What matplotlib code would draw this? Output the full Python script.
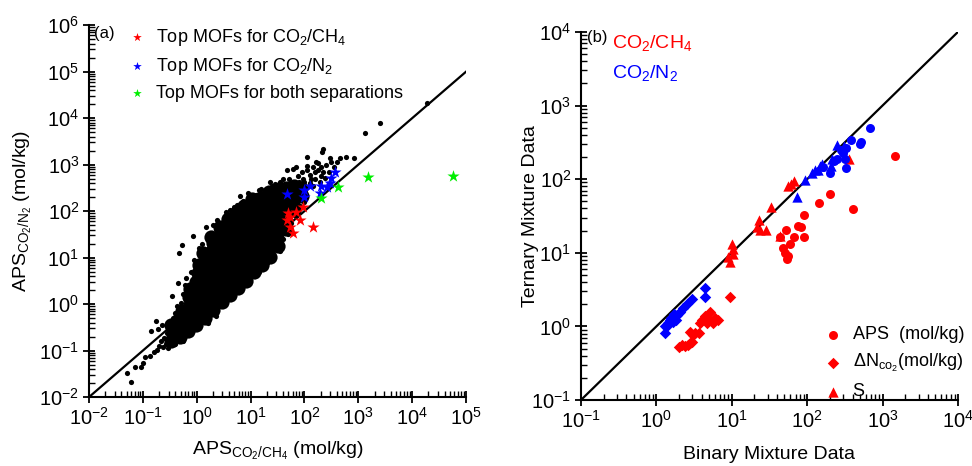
import numpy as np
import matplotlib
matplotlib.use("Agg")
import matplotlib.pyplot as plt
from matplotlib.ticker import LogLocator, FuncFormatter, NullFormatter

plt.rcParams['font.family'] = ['Liberation Sans', 'DejaVu Sans']
plt.rcParams['mathtext.fontset'] = 'custom'
plt.rcParams['mathtext.rm'] = 'Liberation Sans'
plt.rcParams['mathtext.it'] = 'Liberation Sans:italic'
plt.rcParams['mathtext.bf'] = 'Liberation Sans:bold'

# ---- panel (a): log10 values ----
# dense core of the screening cloud
cloud_core = [
    (-0.47, -0.80), (-0.44, -0.62), (-0.48, -0.45),
    (-0.31, -0.70), (-0.29, -0.52), (-0.33, -0.33), (-0.28, -0.15),
    (-0.16, -0.57), (-0.14, -0.38), (-0.17, -0.21), (-0.13, -0.03), (-0.15, 0.15), (-0.12, 0.33),
    (-0.01, -0.44), (0.02, -0.25), (-0.02, -0.07), (0.01, 0.11), (0.03, 0.29), (-0.01, 0.47),
    (0.02, 0.66), (0.04, 0.84),
    (0.16, -0.31), (0.14, -0.13), (0.17, 0.05), (0.15, 0.23), (0.13, 0.41), (0.16, 0.60),
    (0.14, 0.78), (0.17, 0.96), (0.12, 1.10),
    (0.31, -0.13), (0.29, 0.05), (0.32, 0.23), (0.28, 0.42), (0.31, 0.60), (0.30, 0.78),
    (0.33, 0.96), (0.29, 1.14), (0.31, 1.32), (0.27, 1.45),
    (0.46, 0.04), (0.44, 0.22), (0.47, 0.40), (0.45, 0.58), (0.43, 0.77), (0.46, 0.95),
    (0.44, 1.13), (0.47, 1.31), (0.45, 1.49), (0.43, 1.66),
    (0.61, 0.19), (0.59, 0.37), (0.62, 0.55), (0.60, 0.74), (0.58, 0.92), (0.61, 1.10),
    (0.63, 1.28), (0.59, 1.46), (0.61, 1.64), (0.58, 1.82),
    (0.76, 0.35), (0.74, 0.53), (0.77, 0.71), (0.75, 0.89), (0.73, 1.07), (0.76, 1.25),
    (0.74, 1.43), (0.77, 1.61), (0.75, 1.79), (0.73, 1.96),
    (0.91, 0.50), (0.89, 0.68), (0.92, 0.86), (0.90, 1.04), (0.88, 1.22), (0.91, 1.40),
    (0.89, 1.58), (0.92, 1.76), (0.90, 1.94), (0.88, 2.10),
    (1.06, 0.68), (1.04, 0.86), (1.07, 1.04), (1.05, 1.22), (1.03, 1.40), (1.06, 1.58),
    (1.04, 1.76), (1.07, 1.94), (1.05, 2.12), (1.03, 2.25),
    (1.21, 0.85), (1.19, 1.03), (1.22, 1.21), (1.20, 1.39), (1.18, 1.57), (1.21, 1.75),
    (1.19, 1.93), (1.22, 2.11), (1.20, 2.29),
    (1.36, 1.02), (1.34, 1.20), (1.37, 1.38), (1.35, 1.56), (1.33, 1.74), (1.36, 1.92),
    (1.34, 2.10), (1.37, 2.28), (1.35, 2.42),
    (1.51, 1.25), (1.49, 1.43), (1.52, 1.61), (1.50, 1.79), (1.48, 1.97), (1.51, 2.15),
    (1.49, 2.33), (1.52, 2.48),
    (1.66, 1.62), (1.64, 1.80), (1.67, 1.98), (1.65, 2.16), (1.63, 2.34), (1.66, 2.50),
    (1.81, 2.02), (1.79, 2.20), (1.82, 2.38), (1.80, 2.54),
    (1.95, 2.32), (1.93, 2.50),
]

# scattered MOFs around the core
cloud_edge = [
    (-1.30, -1.48), (-1.22, -1.68), (-1.15, -1.35), (-1.04, -1.35), (-1.00, -1.27),
    (-0.96, -1.14), (-0.87, -1.12), (-0.79, -1.03), (-0.74, -0.98), (-0.70, -0.90),
    (-0.66, -0.80), (-0.62, -0.92), (-0.60, -0.72), (-0.56, -0.62), (-0.58, -0.85),
    (-0.53, -0.95), (-0.50, -0.52), (-0.55, -0.42), (-0.44, -0.30), (-0.40, -0.20),
    (-0.36, -0.05), (-0.30, 0.02), (-0.76, -0.37), (-0.85, -0.58), (-0.72, -0.54),
    (-0.64, -0.45), (-0.46, 0.17), (-0.35, 0.45), (-0.33, 1.10), (-0.27, 1.27),
    (-0.07, 1.46), (-0.22, 0.40), (-0.25, 0.22), (-0.20, 0.55), (-0.10, 0.70),
    (-0.06, 0.95), (0.05, 1.20), (0.10, 1.30), (0.18, 1.66), (0.22, 1.40),
    (0.35, 1.62), (0.38, 1.80), (0.52, 1.85), (0.55, 1.98), (0.66, 1.95),
    (0.70, 2.08), (0.74, 2.13), (0.80, 2.32), (0.85, 2.22), (0.98, 2.28),
    (1.10, 2.35), (1.15, 2.45), (1.25, 2.42), (1.36, 2.63), (1.45, 2.58),
    (1.55, 2.62), (1.67, 2.88), (1.79, 2.90), (1.72, 2.70), (1.88, 2.75), (1.98, 2.70),
    (-0.40, -0.85), (-0.25, -0.80), (-0.10, -0.65), (0.05, -0.52), (0.20, -0.40),
    (0.35, -0.25), (0.40, -0.05), (0.52, 0.02), (0.68, 0.16), (0.84, 0.38),
    (0.99, 0.52), (1.08, 0.61), (1.15, 0.70), (1.27, 0.80), (1.30, 0.88),
    (1.42, 1.05), (1.51, 1.25), (1.55, 1.15), (1.60, 1.40), (1.70, 1.50),
    (1.75, 1.75), (1.85, 1.90), (1.92, 2.10), (2.00, 2.20),
    (2.00, 2.62), (2.05, 2.88), (2.10, 2.78), (2.15, 2.95), (2.22, 3.06), (2.25, 3.03),
    (2.32, 3.28), (2.35, 3.33), (2.47, 3.15), (2.66, 3.15), (2.78, 3.17), (2.92, 3.15),
    (2.20, 2.85), (2.30, 2.95), (2.40, 3.00), (2.55, 2.95), (2.60, 3.05), (2.45, 2.85),
    (2.12, 2.70), (2.10, 2.60), (2.20, 2.70), (2.30, 2.75), (2.35, 2.85), (2.15, 2.55),
    (1.95, 2.85), (2.05, 2.98), (2.28, 2.62), (2.04, 3.17),
    (1.90, 2.62), (2.02, 2.52), (2.25, 2.88), (2.50, 3.05), (2.38, 2.72), (1.85, 2.95),
    (1.60, 2.70), (1.40, 2.55), (1.20, 2.48), (0.95, 2.38), (0.62, 2.02), (0.30, 1.70),
    (3.12, 3.68), (3.40, 3.89), (4.27, 4.32),
]

stars_ch4 = [(1.70, 1.95), (1.98, 2.09), (1.67, 1.81), (1.74, 1.87), (1.92, 1.81),
             (1.73, 1.66), (1.79, 1.52), (2.16, 1.66), (1.85, 1.98)]
stars_n2 = [(2.56, 2.85), (2.50, 2.71), (2.47, 2.60), (2.30, 2.54), (2.10, 2.54),
            (2.00, 2.45), (1.99, 2.31), (1.68, 2.37), (2.29, 2.39), (2.41, 2.52)]
stars_both = [(3.18, 2.74), (2.62, 2.51), (2.31, 2.29), (4.75, 2.75)]

# ---- panel (b): log10 values (binary, ternary) ----
aps_ch4 = [(3.17, 2.32), (2.30, 1.80), (2.16, 1.68), (2.61, 1.60), (1.96, 1.51),
           (1.92, 1.35), (1.82, 1.22), (1.96, 1.22), (1.77, 1.12), (1.72, 1.31),
           (1.64, 1.22), (1.68, 1.06), (1.71, 0.99), (1.73, 0.91), (1.74, 0.95), (1.88, 1.36)]
dn_ch4 = [(0.98, 0.40), (0.71, 0.20), (0.78, 0.11), (0.60, 0.09), (0.67, 0.04),
          (0.75, 0.04), (0.82, 0.09), (0.64, 0.14), (0.58, 0.05), (0.70, 0.08),
          (0.45, -0.07), (0.51, -0.09), (0.56, -0.09), (0.49, -0.12), (0.30, -0.28),
          (0.34, -0.25), (0.38, -0.27), (0.42, -0.25), (0.47, -0.21), (0.45, -0.23)]
s_ch4 = [(2.56, 2.27), (1.82, 1.97), (1.79, 1.94), (1.75, 1.91), (1.52, 1.62),
         (1.36, 1.45), (1.33, 1.35), (1.38, 1.31), (1.46, 1.31), (1.64, 1.23),
         (1.00, 1.12), (1.02, 1.05), (1.01, 0.98), (0.95, 0.94), (0.97, 0.87)]
aps_n2 = [(2.83, 2.70), (2.72, 2.51), (2.70, 2.48), (2.58, 2.53), (2.52, 2.42),
          (2.47, 2.35), (2.50, 2.28), (2.36, 2.24), (2.40, 2.28), (2.52, 2.15),
          (2.30, 2.08), (2.21, 2.17), (2.45, 2.40)]
dn_n2 = [(0.64, 0.52), (0.64, 0.40), (0.47, 0.37), (0.40, 0.30), (0.35, 0.25),
         (0.31, 0.20), (0.27, 0.15), (0.24, 0.17), (0.20, 0.11), (0.22, 0.06),
         (0.16, 0.04), (0.18, 0.08), (0.14, 0.00), (0.11, 0.00), (0.11, -0.09), (0.26, 0.09)]
s_n2 = [(1.87, 1.76), (1.97, 1.99), (2.06, 2.08), (2.17, 2.18), (2.20, 2.21),
        (2.15, 2.12), (2.33, 2.27), (2.39, 2.46), (2.49, 2.45), (2.32, 2.18), (2.10, 2.13)]


def xy(pts):
    a = np.array(pts, dtype=float)
    return 10 ** a[:, 0], 10 ** a[:, 1]


def pow10(v, pos):
    return r'$\mathregular{10^{%d}}$' % int(round(np.log10(v)))


def style_axis(ax):
    ax.set_xscale('log')
    ax.set_yscale('log')
    for a in (ax.xaxis, ax.yaxis):
        a.set_major_locator(LogLocator(base=10, numticks=20))
        a.set_minor_locator(LogLocator(base=10, subs=np.arange(2, 10), numticks=20))
        a.set_major_formatter(FuncFormatter(pow10))
        a.set_minor_formatter(NullFormatter())
    ax.spines['top'].set_visible(False)
    ax.spines['right'].set_visible(False)
    ax.spines['left'].set_linewidth(1.5)
    ax.spines['bottom'].set_linewidth(1.5)
    ax.tick_params(which='major', direction='inout', length=8, width=1.3,
                   labelsize=14.5, pad=3)
    ax.tick_params(which='minor', direction='in', length=4, width=1.0)


fig = plt.figure(figsize=(9.72, 4.66), dpi=100)
ax1 = fig.add_axes([0.0916, 0.148, 0.3879, 0.798])
ax2 = fig.add_axes([0.5977, 0.1416, 0.3879, 0.79])

# panel (a)
ax1.plot([1e-2, 1e5], [1e-2, 1e5], color='black', lw=1.6, zorder=2)
x, y = xy(cloud_core)
ax1.scatter(x, y, s=105, color='black', lw=0, zorder=3)
x, y = xy(cloud_edge)
ax1.scatter(x, y, s=14, color='black', lw=0, zorder=3)
x, y = xy(stars_ch4)
ax1.scatter(x, y, s=85, marker='*', color='red', lw=0, zorder=4,
            label=r'Top MOFs for CO$_2$/CH$_4$')
x, y = xy(stars_n2)
ax1.scatter(x, y, s=85, marker='*', color='blue', lw=0, zorder=4,
            label=r'Top MOFs for CO$_2$/N$_2$')
x, y = xy(stars_both)
ax1.scatter(x, y, s=85, marker='*', color='#00ee00', lw=0, zorder=4,
            label='Top MOFs for both separations')
ax1.set_xlim(1e-2, 1e5)
ax1.set_ylim(1e-2, 1e6)
style_axis(ax1)
ax1.set_xlabel(r'APS$_{\mathregular{CO_2/CH_4}}$ (mol/kg)', fontsize=14)
ax1.set_ylabel(r'APS$_{\mathregular{CO_2/N_2}}$ (mol/kg)', fontsize=14)
ax1.xaxis.set_label_coords(0.5, -0.115)
ax1.yaxis.set_label_coords(-0.145, 0.5)
ax1.text(0.012, 0.978, '(a)', transform=ax1.transAxes, fontsize=12, va='center')
ax1.legend(loc='upper left', bbox_to_anchor=(0.08, 1.015), frameon=False,
           fontsize=13, handletextpad=0.45, labelspacing=0.45, borderaxespad=0,
           handlelength=1.2, scatterpoints=1, markerscale=0.7)

# panel (b)
ax2.plot([1e-1, 1e4], [1e-1, 1e4], color='black', lw=1.6, zorder=2)
x, y = xy(aps_ch4)
ax2.scatter(x, y, s=42, marker='o', color='red', lw=0, zorder=3)
x, y = xy(dn_ch4)
ax2.scatter(x, y, s=34, marker='D', color='red', lw=0, zorder=3)
x, y = xy(s_ch4)
ax2.scatter(x, y, s=55, marker='^', color='red', lw=0, zorder=3)
x, y = xy(aps_n2)
ax2.scatter(x, y, s=42, marker='o', color='blue', lw=0, zorder=3)
x, y = xy(dn_n2)
ax2.scatter(x, y, s=34, marker='D', color='blue', lw=0, zorder=3)
x, y = xy(s_n2)
ax2.scatter(x, y, s=55, marker='^', color='blue', lw=0, zorder=3)
ax2.set_xlim(1e-1, 1e4)
ax2.set_ylim(1e-1, 1e4)
style_axis(ax2)
ax2.set_xlabel('Binary Mixture Data', fontsize=14)
ax2.set_ylabel('Ternary Mixture Data', fontsize=14)
ax2.xaxis.set_label_coords(0.5, -0.125)
ax2.yaxis.set_label_coords(-0.11, 0.5)
ax2.text(0.016, 0.984, '(b)', transform=ax2.transAxes, fontsize=12, va='center')
ax2.text(0.082, 0.970, r'CO$_2$/CH$_4$', transform=ax2.transAxes, fontsize=14,
         color='red', va='center')
ax2.text(0.082, 0.889, r'CO$_2$/N$_2$', transform=ax2.transAxes, fontsize=14,
         color='blue', va='center')

h1 = ax2.scatter([], [], s=42, marker='o', color='red', lw=0)
h2 = ax2.scatter([], [], s=34, marker='D', color='red', lw=0)
h3 = ax2.scatter([], [], s=55, marker='^', color='red', lw=0)
ax2.legend([h1, h2, h3],
           ['APS  (mol/kg)', r'$\Delta$N$_{\mathregular{co_2}}$(mol/kg)', 'S'],
           loc='upper left', bbox_to_anchor=(0.62, 0.22), frameon=False,
           fontsize=13, handletextpad=0.5, labelspacing=0.5, borderaxespad=0,
           handlelength=1.2, scatterpoints=1)

fig.savefig('out.png', dpi=100)
